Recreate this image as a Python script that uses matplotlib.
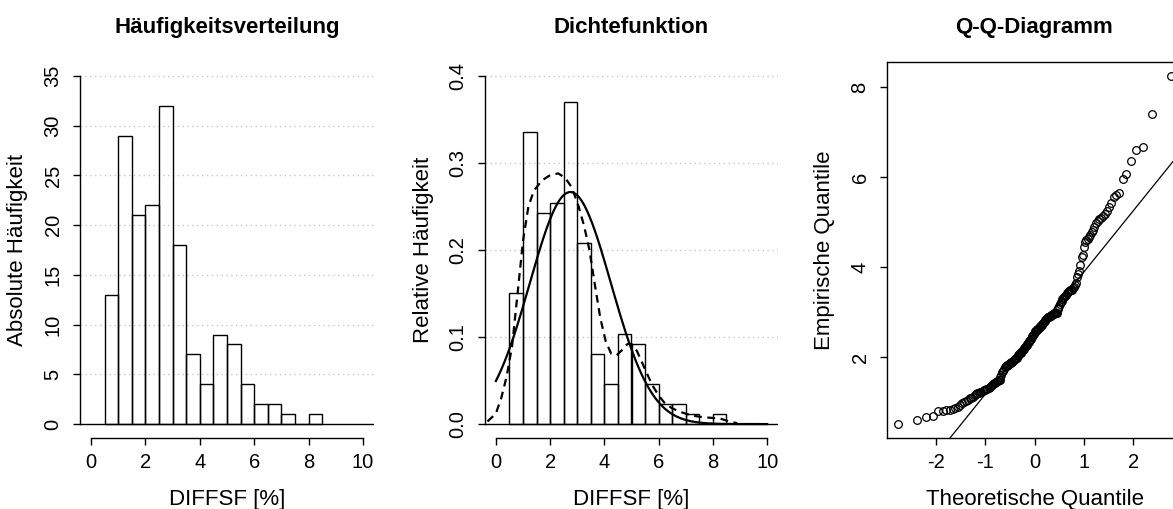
import statistics

import matplotlib
matplotlib.use("Agg")
import matplotlib.pyplot as plt
import numpy as np

plt.rcParams["font.family"] = ["Liberation Sans", "DejaVu Sans"]
plt.rcParams["axes.unicode_minus"] = False

diffsf = [
    0.51, 0.59, 0.67, 0.69, 0.79, 0.81, 0.82, 0.83, 0.84, 0.87, 0.90, 0.94, 0.97,
    1.01, 1.03, 1.05, 1.08, 1.10, 1.12, 1.15, 1.18, 1.20, 1.21, 1.22, 1.23, 1.24,
    1.26, 1.27, 1.28, 1.30, 1.32, 1.34, 1.36, 1.38, 1.40, 1.42, 1.43, 1.45, 1.46,
    1.47, 1.48, 1.49,
    1.55, 1.61, 1.66, 1.70, 1.74, 1.77, 1.79, 1.80, 1.82, 1.83, 1.85, 1.86, 1.87,
    1.89, 1.90, 1.92, 1.93, 1.95, 1.96, 1.97, 1.98,
    2.02, 2.04, 2.06, 2.08, 2.10, 2.12, 2.14, 2.16, 2.18, 2.20, 2.22, 2.25, 2.27,
    2.29, 2.31, 2.33, 2.36, 2.38, 2.41, 2.44, 2.46, 2.48,
    2.52, 2.55, 2.57, 2.59, 2.60, 2.62, 2.63, 2.65, 2.66, 2.68, 2.70, 2.72, 2.74,
    2.76, 2.78, 2.80, 2.82, 2.84, 2.86, 2.88, 2.89, 2.90, 2.91, 2.92, 2.93, 2.94,
    2.95, 2.96, 2.97, 2.98, 2.98, 2.99,
    3.06, 3.10, 3.14, 3.18, 3.22, 3.25, 3.28, 3.31, 3.34, 3.36, 3.39, 3.42, 3.45,
    3.46, 3.47, 3.48, 3.49, 3.49,
    3.53, 3.56, 3.60, 3.64, 3.78, 3.85, 3.92,
    4.05, 4.22, 4.27, 4.45,
    4.55, 4.60, 4.63, 4.66, 4.72, 4.78, 4.83, 4.90, 4.97,
    5.02, 5.06, 5.10, 5.14, 5.18, 5.25, 5.33, 5.42,
    5.55, 5.60, 5.65, 5.95,
    6.06, 6.35,
    6.61, 6.67,
    7.40,
    8.25,
]
bin_edges = np.arange(0.5, 9.0, 0.5)

# kernel density (dashed line)
kde_x = [-0.31, 0.0, 0.2, 0.4, 0.6, 0.8, 1.0, 1.2, 1.4, 1.7, 2.0, 2.3, 2.55,
         2.8, 3.05, 3.25, 3.45, 3.65, 3.85, 4.05, 4.25, 4.45, 4.65, 4.85, 5.0,
         5.2, 5.4, 5.6, 5.8, 6.0, 6.2, 6.5, 6.8, 7.2, 7.6, 8.0, 8.3, 8.6, 8.9]
kde_y = [0.003, 0.012, 0.030, 0.055, 0.090, 0.150, 0.210, 0.250, 0.268, 0.280,
         0.286, 0.288, 0.283, 0.272, 0.250, 0.228, 0.200, 0.160, 0.122, 0.095,
         0.081, 0.079, 0.085, 0.092, 0.092, 0.084, 0.070, 0.056, 0.043, 0.033,
         0.025, 0.018, 0.014, 0.010, 0.008, 0.007, 0.006, 0.003, 0.001]

x_ticks = [0, 2, 4, 6, 8, 10]
count_ticks = [0, 5, 10, 15, 20, 25, 30, 35]
dens_ticks = [0.0, 0.1, 0.2, 0.3, 0.4]
qq_xticks = [-2, -1, 0, 1, 2]
qq_yticks = [2, 4, 6, 8]

W, H = 1173, 509
fig = plt.figure(figsize=(W / 100, H / 100), dpi=100)


def px_axes(left, top, right, bottom):
    ax = fig.add_axes([left / W, 1 - bottom / H, (right - left) / W, (bottom - top) / H])
    ax.set_facecolor("none")
    return ax


def r_style(ax, xlabel, ylabel, title):
    w = ax.get_position().width * W
    h = ax.get_position().height * H
    ax.tick_params(length=5, width=1.0, labelsize=14.5, direction="out")
    ax.tick_params(axis="y", labelrotation=90, pad=14.4)
    ax.tick_params(axis="x", pad=12.4)
    plt.setp(ax.get_yticklabels(), ha="center", va="center")
    plt.setp(ax.get_xticklabels(), va="center")
    for sp in ax.spines.values():
        sp.set_linewidth(1.0)
    ax.set_xlabel(xlabel, fontsize=16, va="center")
    ax.set_ylabel(ylabel, fontsize=16, va="center")
    ax.xaxis.set_label_coords(0.5, -62 / h)
    ax.yaxis.set_label_coords(-62 / w, 0.5)
    ax.set_title(title, fontsize=16, fontweight="bold", y=1 + 35 / h, va="center", pad=0)


def hist_panel(ax, density, yticks, ylabels, ylabel, title):
    ax.hist(diffsf, bins=bin_edges, density=density, facecolor="none",
            edgecolor="black", linewidth=1.0, zorder=2)
    span = yticks[-1] - yticks[0]
    ax.set_xlim(-0.4, 10.4)
    ax.set_ylim(-0.04 * span, yticks[-1] + 0.04 * span)
    ax.spines["top"].set_visible(False)
    ax.spines["right"].set_visible(False)
    ax.spines["left"].set_bounds(yticks[0], yticks[-1])
    ax.spines["bottom"].set_bounds(x_ticks[0], x_ticks[-1])
    ax.set_xticks(x_ticks)
    ax.set_yticks(yticks)
    ax.set_yticklabels(ylabels)
    for y in yticks[1:]:
        ax.axhline(y, color="#c8c8c8", lw=1.0, ls=(0, (1, 2.5)), zorder=0)
    ax.axhline(0, color="black", lw=1.0, zorder=3)
    r_style(ax, "DIFFSF [%]", ylabel, title)


# Häufigkeitsverteilung
ax1 = px_axes(80, 62, 374, 438)
hist_panel(ax1, False, count_ticks, [str(v) for v in count_ticks],
           "Absolute Häufigkeit", "Häufigkeitsverteilung")

# Dichtefunktion
ax2 = px_axes(485, 62, 778, 438)
hist_panel(ax2, True, dens_ticks, [f"{v:.1f}" for v in dens_ticks],
           "Relative Häufigkeit", "Dichtefunktion")
mu = np.mean(diffsf)
sd = np.std(diffsf, ddof=1)
xs = np.linspace(0, 10, 301)
ax2.plot(xs, np.exp(-0.5 * ((xs - mu) / sd) ** 2) / (sd * np.sqrt(2 * np.pi)),
         color="black", lw=1.6, zorder=4)
ax2.plot(kde_x, kde_y, color="black", lw=1.6, ls=(0, (3.5, 2.5)), zorder=4)

# Q-Q-Diagramm
ax3 = px_axes(887, 62, 1182, 438)
n = len(diffsf)
nd = statistics.NormalDist()
theo = [nd.inv_cdf((i - 0.5) / n) for i in range(1, n + 1)]
ax3.plot(theo, sorted(diffsf), "o", mfc="none", mec="black", ms=5.5, mew=0.9)
q1, q3 = np.percentile(diffsf, [25, 75])
z1, z3 = nd.inv_cdf(0.25), nd.inv_cdf(0.75)
ax3.axline((z1, q1), slope=(q3 - q1) / (z3 - z1), color="black", lw=0.9)
xr = theo[-1] - theo[0]
yr = max(diffsf) - min(diffsf)
ax3.set_xlim(theo[0] - 0.04 * xr, theo[-1] + 0.04 * xr)
ax3.set_ylim(min(diffsf) - 0.04 * yr, max(diffsf) + 0.04 * yr)
ax3.set_xticks(qq_xticks)
ax3.set_yticks(qq_yticks)
r_style(ax3, "Theoretische Quantile", "Empirische Quantile", "Q-Q-Diagramm")

fig.savefig("out.png", dpi=100)
